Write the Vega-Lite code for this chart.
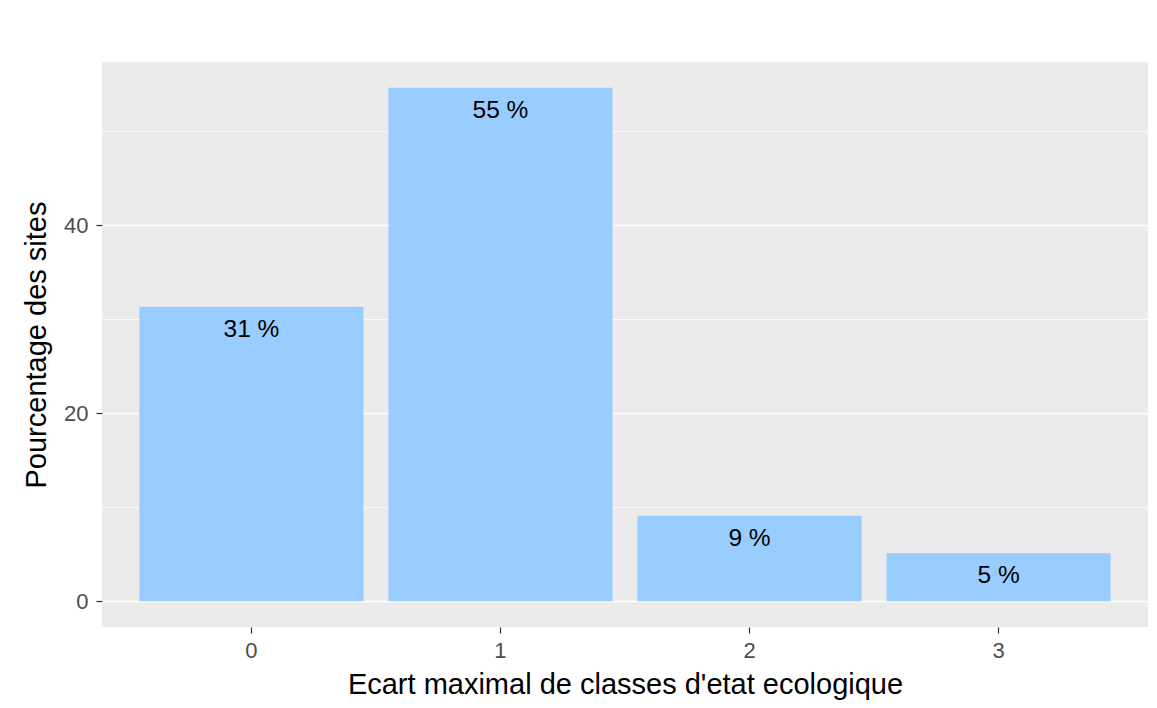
{
  "$schema": "https://vega.github.io/schema/vega-lite/v6.json",
  "width": 1046,
  "height": 565,
  "autosize": "none",
  "padding": {"left": 102, "top": 62, "right": 9, "bottom": 81},
  "background": "white",
  "config": {
    "view": {"fill": "#EBEBEB", "stroke": null},
    "font": "Liberation Sans"
  },
  "data": {
    "values": [
      {"ecart": "0", "pct": 31.3, "label": "31 %"},
      {"ecart": "1", "pct": 54.6, "label": "55 %"},
      {"ecart": "2", "pct": 9.1, "label": "9 %"},
      {"ecart": "3", "pct": 5.1, "label": "5 %"}
    ]
  },
  "encoding": {
    "x": {
      "field": "ecart",
      "type": "nominal",
      "sort": null,
      "scale": {"paddingInner": 0.1, "paddingOuter": 0.15},
      "axis": {
        "title": "Ecart maximal de classes d'etat ecologique",
        "titleFont": "Liberation Sans",
        "titleFontSize": 29,
        "titleFontWeight": "normal",
        "titleColor": "black",
        "titlePadding": 9,
        "labelAngle": 0,
        "labelFontSize": 22,
        "labelColor": "#4D4D4D",
        "labelPadding": 7,
        "tickColor": "#333333",
        "tickSize": 6,
        "tickWidth": 1.2,
        "domain": false,
        "grid": false
      }
    },
    "y": {
      "field": "pct",
      "type": "quantitative",
      "scale": {"domain": [-2.73, 57.33], "nice": false, "zero": false},
      "axis": {
        "title": "Pourcentage des sites",
        "titleFont": "Liberation Sans",
        "titleFontSize": 29,
        "titleFontWeight": "normal",
        "titleColor": "black",
        "titlePadding": 12,
        "values": [0, 10, 20, 30, 40, 50],
        "labelExpr": "datum.value % 20 === 0 ? datum.label : ''",
        "labelFontSize": 22,
        "labelColor": "#4D4D4D",
        "labelPadding": 8,
        "tickColor": "#333333",
        "tickSize": 6,
        "tickWidth": 1.2,
        "tickOpacity": {"condition": {"test": "datum.value % 20 === 0", "value": 1}, "value": 0},
        "domain": false,
        "grid": true,
        "gridColor": "white",
        "gridWidth": {"condition": {"test": "datum.value % 20 === 0", "value": 1.6}, "value": 0.8}
      }
    }
  },
  "layer": [
    {
      "mark": {"type": "bar", "color": "#99CCFF"}
    },
    {
      "mark": {"type": "text", "baseline": "middle", "dy": 23, "fontSize": 24.5, "color": "black", "font": "Liberation Sans"},
      "encoding": {"text": {"field": "label"}}
    }
  ]
}
